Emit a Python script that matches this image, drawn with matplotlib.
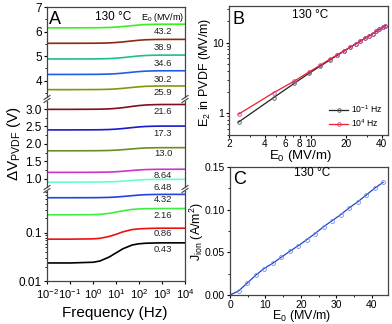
import math
import matplotlib
matplotlib.use("Agg")
import matplotlib.pyplot as plt
from matplotlib.lines import Line2D
from matplotlib.ticker import FixedLocator, NullFormatter, LogLocator, MultipleLocator

plt.rcParams['font.family'] = ['Liberation Sans', 'DejaVu Sans']
plt.rcParams['mathtext.fontset'] = 'custom'
plt.rcParams['mathtext.rm'] = 'Liberation Sans'
plt.rcParams['mathtext.it'] = 'Liberation Sans:italic'

# ---------------- data ----------------
freq_hz = [0.01, 0.1, 1, 2, 5, 10, 20, 50, 100, 200, 500, 1000, 10000]

dv_43_2 = [6.150, 6.150, 6.153, 6.156, 6.165, 6.180, 6.203, 6.240, 6.267, 6.285, 6.296, 6.299, 6.300]
dv_38_9 = [5.520, 5.520, 5.523, 5.526, 5.536, 5.552, 5.576, 5.616, 5.645, 5.664, 5.675, 5.678, 5.680]
dv_34_6 = [4.880, 4.880, 4.883, 4.886, 4.896, 4.912, 4.936, 4.976, 5.005, 5.024, 5.035, 5.038, 5.040]
dv_30_2 = [4.250, 4.250, 4.253, 4.256, 4.265, 4.280, 4.303, 4.340, 4.367, 4.385, 4.396, 4.399, 4.400]
dv_25_9 = [3.630, 3.630, 3.633, 3.636, 3.645, 3.660, 3.683, 3.720, 3.747, 3.765, 3.776, 3.779, 3.780]
dv_21_6 = [2.990, 2.990, 2.993, 2.996, 3.004, 3.018, 3.039, 3.074, 3.099, 3.116, 3.126, 3.129, 3.130]
dv_17_3 = [2.400, 2.400, 2.402, 2.404, 2.411, 2.422, 2.439, 2.466, 2.486, 2.499, 2.507, 2.509, 2.510]
dv_13_0 = [1.800, 1.800, 1.802, 1.804, 1.809, 1.818, 1.832, 1.854, 1.870, 1.881, 1.887, 1.889, 1.890]
dv_8_64 = [1.180, 1.180, 1.182, 1.184, 1.189, 1.198, 1.212, 1.234, 1.250, 1.261, 1.267, 1.269, 1.270]
dv_6_48 = [0.900, 0.900, 0.902, 0.903, 0.908, 0.916, 0.928, 0.948, 0.962, 0.972, 0.978, 0.979, 0.980]
dv_4_32 = [0.536, 0.536, 0.538, 0.540, 0.545, 0.555, 0.569, 0.592, 0.609, 0.621, 0.627, 0.629, 0.630]
dv_2_16 = [0.237, 0.237, 0.239, 0.242, 0.254, 0.269, 0.287, 0.307, 0.314, 0.318, 0.319, 0.320, 0.320]
dv_0_86 = [0.074, 0.074, 0.075, 0.077, 0.084, 0.093, 0.105, 0.117, 0.121, 0.123, 0.1245, 0.125, 0.125]
dv_0_43 = [0.0237, 0.0237, 0.0245, 0.0260, 0.0314, 0.0383, 0.0467, 0.0559, 0.0593, 0.0609, 0.0616, 0.0620, 0.0620]

top_curves = [("43.2", dv_43_2, "#3cf020"), ("38.9", dv_38_9, "#8b2a10"),
              ("34.6", dv_34_6, "#20c080"), ("30.2", dv_30_2, "#2060e0"),
              ("25.9", dv_25_9, "#7a9a10")]
mid_curves = [("21.6", dv_21_6, "#801020"), ("17.3", dv_17_3, "#1a1acc"),
              ("13.0", dv_13_0, "#6b8e23"), ("8.64", dv_8_64, "#cc33cc"),
              ("6.48", dv_6_48, "#66ffcc")]
bot_curves = [("4.32", dv_4_32, "#2244dd"), ("2.16", dv_2_16, "#40ee40"),
              ("0.86", dv_0_86, "#ee1111"), ("0.43", dv_0_43, "#000000")]

e0_b = [2.4, 4.8, 7.2, 9.6, 12.0, 14.4, 16.8, 19.2, 21.6, 24.0, 26.4, 28.8, 31.2, 33.6, 36.0, 38.4, 40.8, 43.2]
e2_low = [0.75, 1.67, 2.66, 3.68, 4.66, 5.65, 6.64, 7.62, 8.6, 9.57, 10.52, 11.48, 12.44, 13.4, 14.4, 15.4, 16.4, 17.4]
e2_high = [0.97, 1.96, 2.86, 3.84, 4.8, 5.8, 6.75, 7.7, 8.65, 9.6, 10.55, 11.5, 12.45, 13.4, 14.4, 15.4, 16.4, 17.4]

e0_c = [0.0, 2.4, 4.8, 7.2, 9.6, 12.0, 14.4, 16.8, 19.2, 21.6, 24.0, 26.4, 28.8, 31.2, 33.6, 36.0, 38.4, 40.8, 43.2]
j_ion = [0.0, 0.0047, 0.0137, 0.023, 0.031, 0.037, 0.044, 0.051, 0.0576, 0.0646, 0.072, 0.080, 0.087, 0.094, 0.102, 0.109, 0.117, 0.125, 0.132]

# ---------------- layout ----------------
W, H = 392, 324
fig = plt.figure(figsize=(W / 100, H / 100), dpi=100)

def rect(l, t, r, b):
    return [l / W, 1 - b / H, (r - l) / W, (b - t) / H]

def px(x, y):
    return x / W, 1 - y / H

TICK = 7.5

def style(ax):
    ax.tick_params(which='major', direction='out', length=2.5, width=0.8, labelsize=TICK, pad=1.2)
    ax.tick_params(which='minor', direction='out', length=1.5, width=0.6)
    for s in ax.spines.values():
        s.set_linewidth(0.9)
        s.set_color('#444444')

AL, AR = 47, 185
axA1 = fig.add_axes(rect(AL, 7, AR, 97))
axA2 = fig.add_axes(rect(AL, 101, AR, 187))
axA3 = fig.add_axes(rect(AL, 191, AR, 281))

for ax, curves in ((axA1, top_curves), (axA2, mid_curves), (axA3, bot_curves)):
    for lab, vals, col in curves:
        ax.plot(freq_hz, vals, color=col, lw=1.2)
    ax.set_xscale('log')
    ax.set_xlim(1e-2, 1e4)
    style(ax)

axA1.set_ylim(3.33, 7.0)
axA1.yaxis.set_major_locator(FixedLocator([4, 5, 6, 7]))
axA1.yaxis.set_minor_locator(MultipleLocator(0.5))
axA2.set_ylim(0.76, 3.23)
axA2.yaxis.set_major_locator(FixedLocator([1.0, 1.5, 2.0, 2.5, 3.0]))
axA2.yaxis.set_major_formatter(plt.FuncFormatter(lambda v, p: f"{v:.1f}"))
axA2.yaxis.set_minor_locator(MultipleLocator(0.25))
axA3.set_yscale('log')
axA3.set_ylim(0.01, 0.74)
axA3.yaxis.set_major_locator(FixedLocator([0.01, 0.1]))
axA3.yaxis.set_major_formatter(plt.FuncFormatter(lambda v, p: f"{v:g}"))
axA3.yaxis.set_minor_locator(LogLocator(base=10, subs=range(2, 10)))
axA3.yaxis.set_minor_formatter(NullFormatter())

for ax in (axA1, axA2):
    ax.tick_params(axis='x', which='both', bottom=False, labelbottom=False)
axA1.spines['bottom'].set_visible(False)
axA2.spines['top'].set_visible(False)
axA2.spines['bottom'].set_visible(False)
axA3.spines['top'].set_visible(False)
axA3.xaxis.set_major_locator(FixedLocator([1e-2, 1e-1, 1, 10, 100, 1e3, 1e4]))
axA3.xaxis.set_major_formatter(plt.FuncFormatter(lambda v, p: r"10$^{%d}$" % round(math.log10(v))))
axA3.xaxis.set_minor_locator(LogLocator(base=10, subs=range(2, 10)))
axA3.xaxis.set_minor_formatter(NullFormatter())
axA3.tick_params(axis='x', labelsize=8, pad=2)
for ax in (axA1, axA2, axA3):
    ax.tick_params(axis='y', labelsize=8.5)

# break marks
for yb in (99, 189):
    for xb in (AL, AR):
        for dy in (-1.5, 1.5):
            x0, y0 = px(xb - 3, yb + dy + 2)
            x1, y1 = px(xb + 3, yb + dy - 2)
            fig.add_artist(Line2D([x0, x1], [y0, y1], color='#444444', lw=0.8))

# curve labels
label_y = {"43.2": 32, "38.9": 48, "34.6": 63, "30.2": 80, "25.9": 93,
           "21.6": 112, "17.3": 133, "13.0": 154, "8.64": 175.5, "6.48": 187.5,
           "4.32": 199, "2.16": 215, "0.86": 234, "0.43": 249}
for lab, yy in label_y.items():
    fig.text(*px(163, yy), lab, fontsize=6.8, ha='center', va='center', color='#222222')

fig.text(*px(49, 19), "A", fontsize=13, ha='left', va='center')
fig.text(*px(113, 17.5), "130 °C", fontsize=8.5, ha='center', va='center')
fig.text(*px(163, 17), r"E$_0$ (MV/m)", fontsize=6.5, ha='center', va='center')
fig.text(*px(14, 143), r"$\Delta$V$_{\rm PVDF}$ (V)", fontsize=11, rotation=90, ha='center', va='center')
fig.text(*px(115, 313), "Frequency (Hz)", fontsize=11, ha='center', va='center')

# ---------------- panel B ----------------
axB = fig.add_axes(rect(229.3, 6, 388, 134.5))
axB.plot(e0_b, e2_low, color='#222222', lw=0.9, marker='o', ms=2.6, mfc='none', mec='#555555', mew=0.6, label=r"10$^{-1}$ Hz")
axB.plot(e0_b, e2_high, color='#e8202a', lw=0.9, marker='o', ms=2.6, mfc='none', mec='#d040a0', mew=0.6, label=r"10$^{4}$ Hz")
axB.set_xscale('log')
axB.set_yscale('log')
axB.set_xlim(2, 45.4)
axB.set_ylim(0.5, 33)
axB.xaxis.set_major_locator(FixedLocator([2, 4, 6, 8, 10, 20, 40]))
axB.xaxis.set_major_formatter(plt.FuncFormatter(lambda v, p: f"{v:g}"))
axB.xaxis.set_minor_locator(FixedLocator([3, 5, 7, 9, 30]))
axB.xaxis.set_minor_formatter(NullFormatter())
axB.yaxis.set_major_locator(FixedLocator([1, 10]))
axB.yaxis.set_major_formatter(plt.FuncFormatter(lambda v, p: f"{v:g}"))
axB.yaxis.set_minor_locator(LogLocator(base=10, subs=range(2, 10)))
axB.yaxis.set_minor_formatter(NullFormatter())
style(axB)
axB.tick_params(axis='x', pad=0.8, labelsize=7.2)
axB.legend(loc='lower right', frameon=False, fontsize=6.2, handlelength=2.2, borderaxespad=0.2,
           labelspacing=0.3, handletextpad=0.4)
fig.text(*px(233, 19), "B", fontsize=13, ha='left', va='center')
fig.text(*px(310, 15), "130 °C", fontsize=8.5, ha='center', va='center')
fig.text(*px(205, 72), r"E$_2$ in PVDF (MV/m)", fontsize=9, rotation=90, ha='center', va='center')
fig.text(*px(300, 156.5), r"E$_0$ (MV/m)", fontsize=9.5, ha='center', va='center')

# ---------------- panel C ----------------
axC = fig.add_axes(rect(230, 167, 388, 295))
axC.plot(e0_c, j_ion, color='#2040d0', lw=0.9, marker='o', ms=2.8, mfc='none', mec='#7090e0', mew=0.6)
axC.set_xlim(0, 44.6)
axC.set_ylim(0, 0.15)
axC.xaxis.set_major_locator(MultipleLocator(10))
axC.xaxis.set_minor_locator(MultipleLocator(5))
axC.yaxis.set_major_locator(MultipleLocator(0.05))
axC.yaxis.set_minor_locator(MultipleLocator(0.025))
axC.yaxis.set_major_formatter(plt.FuncFormatter(lambda v, p: f"{v:.2f}"))
style(axC)
axC.tick_params(axis='x', pad=0.8)
fig.text(*px(233, 180), "C", fontsize=13, ha='left', va='center')
fig.text(*px(312, 173), "130 °C", fontsize=8.5, ha='center', va='center')
fig.text(*px(196.5, 231), r"J$_{\rm ion}$ (A/m$^2$)", fontsize=9, rotation=90, ha='center', va='center')
fig.text(*px(302, 316.5), r"E$_0$ (MV/m)", fontsize=9, ha='center', va='center')

fig.savefig("out.png", dpi=100)
